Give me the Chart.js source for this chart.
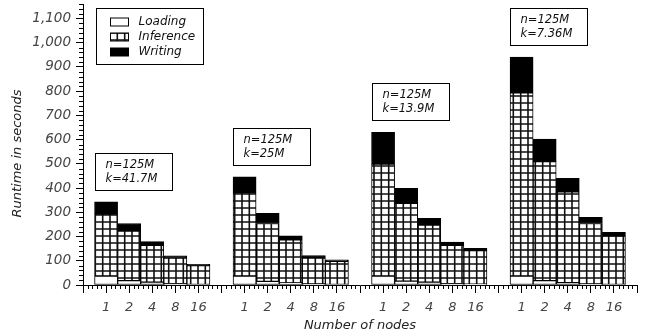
<!DOCTYPE html>
<html>
<head>
<meta charset="utf-8">
<script src="https://cdn.jsdelivr.net/npm/chart.js@4.4.1/dist/chart.umd.min.js"></script>
<style>
    html, body { margin: 0; padding: 0; background: #fff; }
    #wrap { width: 651px; height: 336px; }
</style>
</head>
<body>
<div id="wrap"><canvas id="runtimeChart" width="651" height="336"></canvas></div>
<script>
const nodeCounts = ['1', '2', '4', '8', '16'];
const problemSizes = ['n=125M', 'n=125M', 'n=125M', 'n=125M'];
const clusterSizes = ['k=41.7M', 'k=25M', 'k=13.9M', 'k=7.36M'];

// seconds, 5 node counts per group, 4 groups
const loadingTimes = [37, 18, 12, 5, 2, 37, 15, 9, 4, 2, 37, 16, 12, 5, 3, 37, 18, 10, 4, 2];
const inferenceTimes = [256, 205, 152, 106, 78, 344, 239, 177, 107, 96, 462, 321, 235, 159, 139, 756, 491, 375, 250, 201];
const writingTimes = [50, 31, 15, 9, 5, 66, 42, 17, 10, 6, 131, 62, 28, 13, 9, 148, 93, 55, 25, 14];

const yMax = 1160;
const yTitle = 'Runtime in seconds';
const fontFamily = "'DejaVu Sans', Verdana, sans-serif";

// one empty slot between groups
const xPositions = loadingTimes.map((v, i) => Math.floor(i / 5) * 6 + (i % 5) + 1);
const xLabelAt = {};
xPositions.forEach((x, i) => { xLabelAt[x] = nodeCounts[i % 5]; });

function toPoints(values) {
    return values.map((v, i) => ({ x: xPositions[i], y: v }));
}

function makeGridPattern() {
    const tile = document.createElement('canvas');
    tile.width = 22;
    tile.height = 21;
    const t = tile.getContext('2d');
    t.fillStyle = '#fff';
    t.fillRect(0, 0, 22, 21);
    t.strokeStyle = '#111';
    t.lineWidth = 1.6;
    t.beginPath();
    [0, 7.3, 14.7, 22].forEach(x => { t.moveTo(x, 0); t.lineTo(x, 21); });
    [5, 12, 19].forEach(y => { t.moveTo(0, y); t.lineTo(22, y); });
    t.stroke();
    return t.createPattern(tile, 'repeat');
}

const gridPattern = makeGridPattern();

const minorTicks = {
    id: 'minorTicks',
    afterDraw(chart) {
        const { ctx, scales: { x, y } } = chart;
        ctx.save();
        ctx.strokeStyle = '#000';
        ctx.lineWidth = 1;
        ctx.beginPath();
        for (let k = 0; k <= 120; k++) {
            if (k % 5 === 0) continue;
            const px = Math.round(x.getPixelForValue(k / 5)) + 0.5;
            ctx.moveTo(px, y.bottom);
            ctx.lineTo(px, y.bottom + 4);
        }
        for (let k = 0; k <= yMax / 20; k++) {
            if (k % 5 === 0) continue;
            const py = Math.round(y.getPixelForValue(k * 20)) + 0.5;
            ctx.moveTo(x.left - 4, py);
            ctx.lineTo(x.left, py);
        }
        ctx.stroke();

        // y title, sits a bit below the axis middle
        ctx.translate(18, (y.top + y.bottom) / 2 + 9);
        ctx.rotate(-Math.PI / 2);
        ctx.font = 'italic 13px ' + fontFamily;
        ctx.fillStyle = '#222';
        ctx.textAlign = 'center';
        ctx.textBaseline = 'middle';
        ctx.fillText(yTitle, 0, 0);
        ctx.restore();
    }
};

const groupNotes = {
    id: 'groupNotes',
    afterDraw(chart) {
        const { ctx, scales: { x, y } } = chart;
        ctx.save();
        ctx.font = 'italic 11.5px ' + fontFamily;
        ctx.textBaseline = 'middle';
        ctx.textAlign = 'left';
        clusterSizes.forEach((k, g) => {
            const i = g * 5;
            const total = loadingTimes[i] + inferenceTimes[i] + writingTimes[i];
            const left = Math.round(x.getPixelForValue(xPositions[i] - 0.5)) + 0.5;
            const bottom = Math.round(y.getPixelForValue(total) - 12) + 0.5;
            const top = bottom - 37;
            ctx.fillStyle = '#fff';
            ctx.fillRect(left, top, 77, 37);
            ctx.strokeStyle = '#000';
            ctx.lineWidth = 1;
            ctx.strokeRect(left, top, 77, 37);
            ctx.fillStyle = '#111';
            ctx.fillText(problemSizes[g], left + 10, bottom - 25);
            ctx.fillText(k, left + 10, bottom - 11);
        });
        ctx.restore();
    }
};

const boxLegend = {
    id: 'boxLegend',
    afterDraw(chart) {
        const { ctx, chartArea } = chart;
        const left = chartArea.left + 13.5;
        const top = chartArea.top + 4.5;
        ctx.save();
        ctx.fillStyle = '#fff';
        ctx.fillRect(left, top, 107, 56);
        ctx.strokeStyle = '#000';
        ctx.lineWidth = 1;
        ctx.strokeRect(left, top, 107, 56);
        ctx.font = 'italic 12px ' + fontFamily;
        ctx.textBaseline = 'middle';
        chart.data.datasets.forEach((ds, i) => {
            const cy = top + 13.5 + i * 15;
            ctx.fillStyle = ds.backgroundColor;
            ctx.fillRect(left + 14, cy - 4, 18, 8);
            ctx.strokeStyle = '#000';
            ctx.strokeRect(left + 14, cy - 4, 18, 8);
            ctx.fillStyle = '#111';
            ctx.fillText(ds.label, left + 42, cy);
        });
        ctx.restore();
    }
};

const ctx = document.getElementById('runtimeChart').getContext('2d');

new Chart(ctx, {
    type: 'bar',
    data: {
        datasets: [
            {
                label: 'Loading',
                data: toPoints(loadingTimes),
                backgroundColor: '#fff',
                borderColor: '#000',
                borderWidth: 1,
                borderSkipped: false
            },
            {
                label: 'Inference',
                data: toPoints(inferenceTimes),
                backgroundColor: gridPattern,
                borderColor: '#000',
                borderWidth: 1,
                borderSkipped: false
            },
            {
                label: 'Writing',
                data: toPoints(writingTimes),
                backgroundColor: '#000',
                borderColor: '#000',
                borderWidth: 1,
                borderSkipped: false
            }
        ]
    },
    options: {
        responsive: false,
        animation: false,
        barPercentage: 1,
        categoryPercentage: 1,
        layout: { padding: { top: 4, right: 14, left: 0, bottom: 0 } },
        plugins: {
            legend: { display: false },
            tooltip: { enabled: false }
        },
        scales: {
            x: {
                type: 'linear',
                min: 0,
                max: 24,
                stacked: true,
                offset: false,
                grid: {
                    display: true,
                    drawOnChartArea: false,
                    offset: false,
                    tickLength: 8,
                    tickColor: '#000'
                },
                border: { color: '#000', width: 1 },
                ticks: {
                    stepSize: 1,
                    autoSkip: false,
                    maxRotation: 0,
                    padding: 7,
                    color: '#444',
                    font: { family: fontFamily, style: 'italic', size: 13 },
                    callback: v => xLabelAt[v] || ''
                },
                title: {
                    display: true,
                    text: 'Number of nodes',
                    color: '#222',
                    font: { family: fontFamily, style: 'italic', size: 13 },
                    padding: { top: 0, bottom: 3 }
                },
                afterFit: s => { s.height = 51; s.paddingLeft = 0; s.paddingRight = 0; }
            },
            y: {
                min: 0,
                max: yMax,
                stacked: true,
                grid: {
                    display: true,
                    drawOnChartArea: false,
                    tickLength: 7,
                    tickColor: '#000'
                },
                border: { color: '#000', width: 1 },
                ticks: {
                    stepSize: 100,
                    includeBounds: false,
                    padding: 5,
                    color: '#444',
                    font: { family: fontFamily, style: 'italic', size: 13.5 },
                    callback: v => v.toLocaleString('en-US')
                },
                afterFit: s => { s.width = 83; s.paddingTop = 0; s.paddingBottom = 0; }
            }
        }
    },
    plugins: [minorTicks, groupNotes, boxLegend]
});
</script>
</body>
</html>
